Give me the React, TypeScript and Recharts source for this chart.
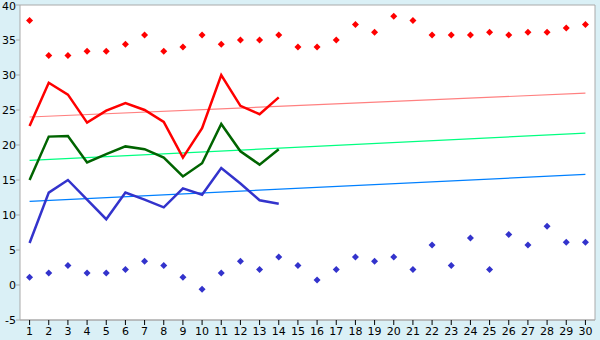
import { CartesianGrid, ComposedChart, Line, XAxis, YAxis } from "recharts";

const days = [
  "1", "2", "3", "4", "5", "6", "7", "8", "9", "10",
  "11", "12", "13", "14", "15", "16", "17", "18", "19", "20",
  "21", "22", "23", "24", "25", "26", "27", "28", "29", "30",
];

const yTicks = [-5, 0, 5, 10, 15, 20, 25, 30, 35, 40];

// scattered markers, one per day
const highMarks = [
  37.8, 32.8, 32.8, 33.4, 33.4, 34.4, 35.7, 33.4, 34.0, 35.7,
  34.4, 35.0, 35.0, 35.7, 34.0, 34.0, 35.0, 37.2, 36.1, 38.4,
  37.8, 35.7, 35.7, 35.7, 36.1, 35.7, 36.1, 36.1, 36.7, 37.2,
];
const lowMarks = [
  1.1, 1.7, 2.8, 1.7, 1.7, 2.2, 3.4, 2.8, 1.1, -0.6,
  1.7, 3.4, 2.2, 4.0, 2.8, 0.7, 2.2, 4.0, 3.4, 4.0,
  2.2, 5.7, 2.8, 6.7, 2.2, 7.2, 5.7, 8.4, 6.1, 6.1,
];

// lines, first 14 days only
const redSeries = [22.7, 28.9, 27.2, 23.2, 24.9, 26.0, 25.0, 23.3, 18.2, 22.4, 30.0, 25.6, 24.4, 26.8];
const greenSeries = [15.0, 21.2, 21.3, 17.5, 18.7, 19.8, 19.4, 18.2, 15.5, 17.4, 23.0, 19.1, 17.2, 19.4];
const blueSeries = [6.0, 13.2, 15.0, 12.2, 9.4, 13.2, 12.2, 11.1, 13.8, 12.9, 16.7, 14.5, 12.1, 11.6];

// trend lines: value at day 1 and at day 30
const redTrend = [24.0, 27.4];
const greenTrend = [17.8, 21.7];
const blueTrend = [11.95, 15.8];

const last = days.length - 1;
const ends = (t: number[], i: number) => (i === 0 ? t[0] : i === last ? t[1] : null);

const data = days.map((day, i) => ({
  day,
  high: highMarks[i],
  low: lowMarks[i],
  red: i < redSeries.length ? redSeries[i] : null,
  green: i < greenSeries.length ? greenSeries[i] : null,
  blue: i < blueSeries.length ? blueSeries[i] : null,
  redTrend: ends(redTrend, i),
  greenTrend: ends(greenTrend, i),
  blueTrend: ends(blueTrend, i),
}));

const diamond = (color: string) => (props: any) => {
  const { cx, cy, index } = props;
  if (cx == null || cy == null) return <g key={index} />;
  const r = 3.5;
  return (
    <path
      key={index}
      d={`M${cx},${cy - r}L${cx + r},${cy}L${cx},${cy + r}L${cx - r},${cy}Z`}
      fill={color}
      stroke="none"
    />
  );
};

const tickStyle = { fontSize: 11, fill: "#000", fontFamily: "DejaVu Sans" };

export default function App() {
  return (
    <div
      style={{
        position: "absolute",
        left: 0,
        top: 0,
        width: 600,
        height: 340,
        background: "#daf0f6",
      }}
    >
      <ComposedChart
        width={600}
        height={340}
        data={data}
        margin={{ top: 5, right: 0, bottom: 0, left: 0 }}
      >
        <CartesianGrid vertical={false} stroke="#aaa" fill="#fff" />
        <XAxis
          dataKey="day"
          scale="band"
          interval={0}
          height={20}
          tickSize={5}
          tickMargin={2}
          stroke="#aaa"
          tickLine={{ stroke: "#000" }}
          tick={tickStyle}
        />
        <YAxis
          yAxisId="l"
          domain={[-5, 40]}
          ticks={yTicks}
          width={20}
          tickSize={4}
          tickMargin={0}
          stroke="#aaa"
          tick={tickStyle}
        />
        <YAxis yAxisId="r" orientation="right" width={5} tick={false} tickLine={false} stroke="#aaa" />
        <Line yAxisId="l" dataKey="redTrend" stroke="#ff8080" strokeWidth={1.2} dot={false} connectNulls isAnimationActive={false} />
        <Line yAxisId="l" dataKey="greenTrend" stroke="#00ff80" strokeWidth={1.2} dot={false} connectNulls isAnimationActive={false} />
        <Line yAxisId="l" dataKey="blueTrend" stroke="#0080ff" strokeWidth={1.2} dot={false} connectNulls isAnimationActive={false} />
        <Line yAxisId="l" dataKey="red" stroke="#ff0000" strokeWidth={2.5} dot={false} isAnimationActive={false} />
        <Line yAxisId="l" dataKey="green" stroke="#006400" strokeWidth={2.5} dot={false} isAnimationActive={false} />
        <Line yAxisId="l" dataKey="blue" stroke="#3333cc" strokeWidth={2.5} dot={false} isAnimationActive={false} />
        <Line yAxisId="l" dataKey="high" stroke="none" dot={diamond("#ff0000")} isAnimationActive={false} />
        <Line yAxisId="l" dataKey="low" stroke="none" dot={diamond("#3333cc")} isAnimationActive={false} />
      </ComposedChart>
    </div>
  );
}
